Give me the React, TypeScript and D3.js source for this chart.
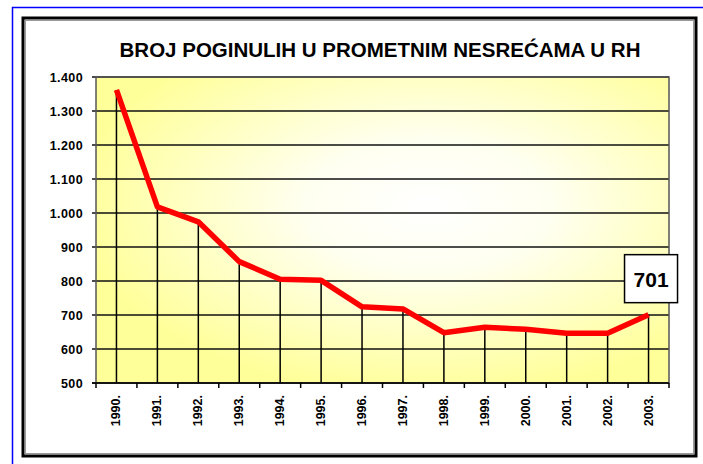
import React from 'react';
import * as d3 from 'd3';

const years = ['1990.', '1991.', '1992.', '1993.', '1994.', '1995.', '1996.', '1997.', '1998.', '1999.', '2000.', '2001.', '2002.', '2003.'];
const deaths = [1362, 1018, 974, 857, 805, 802, 724, 718, 648, 664, 658, 646, 646, 701];
const yTicks = [500, 600, 700, 800, 900, 1000, 1100, 1200, 1300, 1400];
const title = 'BROJ POGINULIH U PROMETNIM NESREĆAMA U RH';
const calloutValue = 701;

const W = 703;
const H = 464;
const plot = { left: 96, top: 77, right: 669, bottom: 383 };

const fmt = (v: number) => (v >= 1000 ? `${Math.floor(v / 1000)}.${String(v % 1000).padStart(3, '0')}` : String(v));

const App: React.FC = () => {
  const x = d3.scaleBand<string>().domain(years).range([plot.left, plot.right]);
  const y = d3.scaleLinear().domain([500, 1400]).range([plot.bottom, plot.top]);
  const cx = (yr: string) => (x(yr) ?? 0) + x.bandwidth() / 2;

  const line = d3.line<number>()
    .x((_, i) => cx(years[i]))
    .y(d => y(d));

  const lastX = cx(years[years.length - 1]);
  const lastY = y(deaths[deaths.length - 1]);

  return (
    <svg width={W} height={H} style={{ position: 'absolute', left: 0, top: 0 }} fontFamily="'Liberation Sans', Arial, sans-serif">
      <defs>
        <radialGradient id="bg" cx="0.58" cy="0.42" r="0.62" gradientUnits="objectBoundingBox">
          <stop offset="0%" stopColor="#ffffff" />
          <stop offset="35%" stopColor="#fffff0" />
          <stop offset="100%" stopColor="#ffff99" />
        </radialGradient>
      </defs>
      <rect x={0} y={0} width={W} height={H} fill="#fff" />
      {/* blue outer border, runs off the right/bottom */}
      <rect x={12.5} y={7.5} width={W} height={H} fill="none" stroke="#0000ff" strokeWidth={1.5} />
      {/* chart frame */}
      <rect x={23} y={18} width={673} height={438} fill="#fff" stroke="#000" strokeWidth={3} />
      <rect x={25.5} y={20.5} width={668} height={433} fill="none" stroke="#999" strokeWidth={1} />

      <text x={380} y={57} textAnchor="middle" fontSize={20.5} fontWeight="bold" fill="#000">{title}</text>

      <rect x={plot.left} y={plot.top} width={plot.right - plot.left} height={plot.bottom - plot.top} fill="url(#bg)" />

      {yTicks.map(t => (
        <g key={t}>
          <line x1={plot.left - 4} x2={plot.right} y1={y(t)} y2={y(t)} stroke="#111" strokeWidth={1.5} />
          <text x={83} y={y(t) + 4.5} textAnchor="end" fontSize={12.5} fontWeight="bold" letterSpacing={0.4} fill="#000">{fmt(t)}</text>
        </g>
      ))}
      <rect x={plot.left} y={plot.top} width={plot.right - plot.left} height={plot.bottom - plot.top} fill="none" stroke="#555" strokeWidth={1.5} />

      {years.map((yr, i) => (
        <g key={yr}>
          <line x1={x(yr)} x2={x(yr)} y1={plot.bottom} y2={plot.bottom + 5} stroke="#000" strokeWidth={1.5} />
          <line x1={cx(yr)} x2={cx(yr)} y1={y(deaths[i])} y2={plot.bottom} stroke="#000" strokeWidth={1.5} />
          <text transform={`translate(${cx(yr) + 4},${395}) rotate(-90)`} textAnchor="end" fontSize={12.5} fontWeight="bold" fill="#000">{yr}</text>
        </g>
      ))}
      <line x1={plot.right} x2={plot.right} y1={plot.bottom} y2={plot.bottom + 5} stroke="#000" strokeWidth={1.5} />
      <line x1={plot.left - 4} x2={plot.right} y1={plot.bottom} y2={plot.bottom} stroke="#000" strokeWidth={1.5} />

      <path d={line(deaths) ?? ''} fill="none" stroke="#ff0000" strokeWidth={5.5} strokeLinejoin="round" />

      <g transform={`translate(${lastX},${lastY})`}>
        <rect x={-24} y={-60} width={53} height={48} fill="#fff" stroke="#000" strokeWidth={1.5} />
        <text x={2.5} y={-28} textAnchor="middle" fontSize={21} fontWeight="bold" fill="#000">{calloutValue}</text>
      </g>
    </svg>
  );
};

export default App;
